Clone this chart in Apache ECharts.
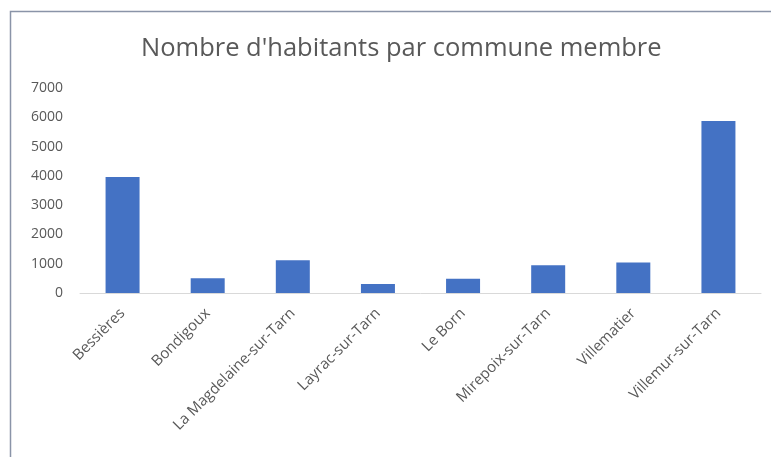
<!DOCTYPE html>
<html>
<head>
<meta charset="utf-8">
<script src="https://cdn.jsdelivr.net/npm/echarts@6/dist/echarts.min.js"></script>
<style>
	html, body { margin: 0; padding: 0; background: #fff; }
	#chart { width: 771px; height: 457px; }
</style>
</head>
<body>
<div id="chart"></div>
<script>
	// communes et nombre d'habitants
	const communes = ['Bessières', 'Bondigoux', 'La Magdelaine-sur-Tarn', 'Layrac-sur-Tarn', 'Le Born', 'Mirepoix-sur-Tarn', 'Villematier', 'Villemur-sur-Tarn'];
	const habitants = [3960, 500, 1120, 310, 490, 950, 1040, 5870];
	const yTicks = [0, 1000, 2000, 3000, 4000, 5000, 6000, 7000];

	const textColor = '#595959';
	const font = 'Open Sans';

	const myChart = echarts.init(document.getElementById('chart'));
	const option = {
		backgroundColor: '#fff',
		animation: false,
		graphic: [{
			// cadre du graphique
			type: 'rect',
			shape: { x: 10.5, y: 11.5, width: 900, height: 600 },
			style: { fill: 'none', stroke: '#8a94a8', lineWidth: 1.5 },
			silent: true
		}],
		title: {
			text: "Nombre d'habitants par commune membre",
			left: 136,
			top: 31,
			textStyle: { fontFamily: font, fontSize: 25.5, fontWeight: 'normal', color: textColor }
		},
		grid: { left: 80, right: 10, top: 88, bottom: 164 },
		xAxis: {
			type: 'category',
			data: communes,
			axisLine: { lineStyle: { color: '#d9d9d9', width: 1 } },
			axisTick: { show: false },
			axisLabel: {
				rotate: 45,
				interval: 0,
				margin: 18,
				fontFamily: font,
				fontSize: 15,
				color: textColor
			}
		},
		yAxis: {
			type: 'value',
			min: yTicks[0],
			max: yTicks[yTicks.length - 1],
			interval: 1000,
			splitLine: { show: false },
			axisLine: { show: false },
			axisTick: { show: false },
			axisLabel: {
				margin: 17,
				fontFamily: font,
				fontSize: 14,
				color: textColor,
				formatter: function(value) {
					return String(value);
				}
			}
		},
		series: [{
			type: 'bar',
			data: habitants,
			barWidth: 34,
			itemStyle: { color: '#4472c4' }
		}]
	};
	myChart.setOption(option);
</script>
</body>
</html>
